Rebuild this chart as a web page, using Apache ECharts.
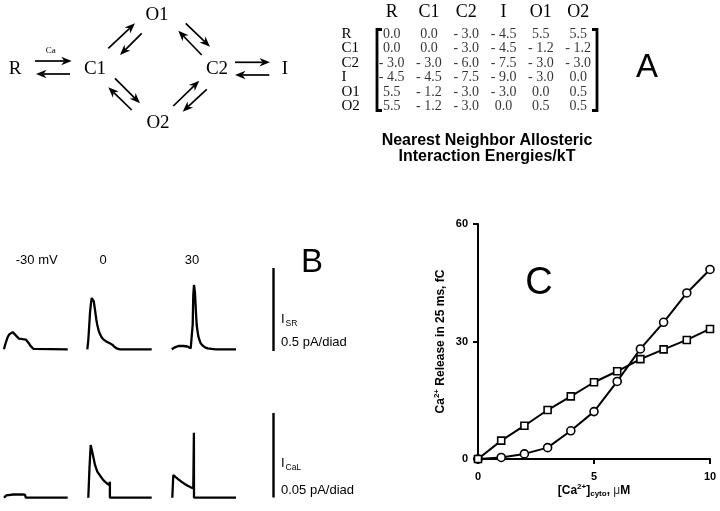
<!DOCTYPE html>
<html>
<head>
<meta charset="utf-8">
<style>
  html, body { margin: 0; padding: 0; background: #fff; }
  #chart { width: 720px; height: 511px; }
</style>
<script src="https://cdn.jsdelivr.net/npm/echarts@6/dist/echarts.min.js"></script>
</head>
<body>
<div id="chart"></div>
<script>
// Panel A: nearest neighbor allosteric interaction energies / kT
const states = ['R', 'C1', 'C2', 'I', 'O1', 'O2'];
const energies = [
    [0.0, 0.0, -3.0, -4.5, 5.5, 5.5],
    [0.0, 0.0, -3.0, -4.5, -1.2, -1.2],
    [-3.0, -3.0, -6.0, -7.5, -3.0, -3.0],
    [-4.5, -4.5, -7.5, -9.0, -3.0, 0.0],
    [5.5, -1.2, -3.0, -3.0, 0.0, 0.5],
    [5.5, -1.2, -3.0, 0.0, 0.5, 0.5]
];

// Panel B: simulated traces, [time, current in pA/diad]
const voltages = ['-30 mV', '0', '30'];
const isrTraces = [
    [[0.7,0],[1.5,0.02],[3,0.05],[4.5,0.075],[6,0.09],[7.5,0.1],[9.4,0.104],[11,0.097],[12.5,0.084],[14,0.072],[15.5,0.065],[17.5,0.062],[19.5,0.061],[21,0.06],[22.7,0.058],[24,0.05],[25.5,0.037],[27,0.022],[28.5,0.01],[30,0.003],[32,0],[64.4,0]],
    [[0,0],[1,0.056],[2,0.15],[2.7,0.22],[3.5,0.27],[4.4,0.31],[5.4,0.318],[6.5,0.29],[7.7,0.238],[9,0.18],[10,0.147],[11.3,0.115],[12.7,0.092],[14.3,0.073],[16,0.06],[17.7,0.052],[19.4,0.046],[21,0.041],[22.5,0.036],[23.7,0.035],[25,0.028],[26.3,0.018],[27.7,0.012],[30,0.004],[32.7,0],[64.4,0]],
    [[0,0],[1.5,0.006],[3.3,0.012],[5,0.018],[6.7,0.02],[9,0.021],[11.7,0.02],[13.5,0.019],[15.6,0.017],[17.5,0.011],[19,0.006],[20.3,0.009],[21,0.15],[21.6,0.33],[22.3,0.389],[23.3,0.339],[24.3,0.218],[25,0.147],[25.8,0.11],[26.6,0.08],[27.8,0.055],[29,0.036],[31,0.022],[33.3,0.012],[36,0.006],[40,0.002],[44,0],[64.3,0]]
];
const icalTraces = [
    [[0.7,0],[1.7,0.0008],[3,0.0014],[5,0.0018],[10,0.0019],[18,0.0019],[21.7,0.0018],[22.5,0],[64.4,0]],
    [[1,0],[2.2,0.018],[3.4,0.0314],[4.7,0.028],[6,0.0244],[7.7,0.0195],[10,0.0155],[12.7,0.0132],[16,0.0105],[19.4,0.0086],[22,0.0076],[22.6,0.0072],[22.6,0.0095],[22.6,0],[64.4,0]],
    [[0.6,0],[1.1,0.007],[1.6,0.0135],[4,0.0122],[7,0.0108],[10,0.0094],[13,0.0082],[16,0.0071],[19,0.0062],[21.6,0.0057],[22.2,0.0387],[22.3,0],[64.3,0]]
];

// Panel C: Ca2+ release in 25 ms (fC) vs cytosolic [Ca2+] (uM)
const caConc = [0, 1, 2, 3, 4, 5, 6, 7, 8, 9, 10];
const releaseCircles = [0, 0.4, 1.3, 2.9, 7.2, 12.1, 19.8, 28.1, 34.9, 42.4, 48.4];
const releaseSquares = [0, 4.7, 8.5, 12.5, 16.0, 19.6, 22.4, 25.5, 28.0, 30.4, 33.2];

const SANS = 'Liberation Sans, Arial, sans-serif';
const SERIF = 'Liberation Serif, Times New Roman, serif';

function fmtEnergy(v) {
    return v < 0 ? '- ' + Math.abs(v).toFixed(1) : v.toFixed(1);
}

function arrow(x1, y1, x2, y2) {
    const len = Math.hypot(x2 - x1, y2 - y1);
    const ux = (x2 - x1) / len, uy = (y2 - y1) / len;
    const hl = 10.5, hw = 4.2;
    const bx = x2 - ux * hl, by = y2 - uy * hl;
    const nx = x2 - ux * hl * 0.7, ny = y2 - uy * hl * 0.7;
    return [
        { type: 'line', shape: { x1: x1, y1: y1, x2: nx, y2: ny }, style: { stroke: '#000', lineWidth: 1.7 } },
        { type: 'polygon', shape: { points: [[x2, y2], [bx - uy * hw, by + ux * hw], [nx, ny], [bx + uy * hw, by - ux * hw]] },
          style: { fill: '#000' } }
    ];
}

function text(x, y, t, font, size, extra) {
    return {
        type: 'text', x: x, y: y,
        style: Object.assign({ text: t, fontFamily: font, fontSize: size, fill: '#000', align: 'center', verticalAlign: 'middle' }, extra || {})
    };
}

// state diagram layout
const diagramLabels = [['R', 15, 69], ['C1', 95, 69], ['O1', 157, 15], ['O2', 158, 123], ['C2', 217, 69], ['I', 285, 69]];
const diagramArrows = [
    [35, 61, 71.7, 61], [70, 74, 36, 74],
    [235, 62.3, 270, 62.3], [269.3, 75, 235, 75],
    [108.3, 48.3, 135, 23.3], [141.7, 33.3, 120, 55],
    [185.7, 23.3, 210, 46.7], [201.7, 55, 178.3, 30.7],
    [115, 78.3, 140, 103.3], [131.7, 110, 108.3, 87.3],
    [173.3, 106, 199.3, 80.7], [206.7, 89.3, 182.7, 111.7]
];

const graphic = [];
diagramLabels.forEach(function (d) { graphic.push(text(d[1], d[2], d[0], SERIF, 19)); });
graphic.push(text(50.7, 51, 'Ca', SERIF, 9));
diagramArrows.forEach(function (a) { graphic.push.apply(graphic, arrow(a[0], a[1], a[2], a[3])); });

// matrix brackets
graphic.push({ type: 'polyline', shape: { points: [[382, 29.5], [377, 29.5], [377, 110.5], [382, 110.5]] },
    style: { stroke: '#000', lineWidth: 2.8, fill: null } });
graphic.push({ type: 'polyline', shape: { points: [[592, 29.5], [597, 29.5], [597, 110.5], [592, 110.5]] },
    style: { stroke: '#000', lineWidth: 2.8, fill: null } });
graphic.push(text(487, 140.5, 'Nearest Neighbor Allosteric', SANS, 16, { fontWeight: 'bold' }));
graphic.push(text(487, 156.5, 'Interaction Energies/kT', SANS, 16, { fontWeight: 'bold' }));

// panel letters
graphic.push(text(647, 68, 'A', SANS, 33));
graphic.push(text(312, 263, 'B', SANS, 33));
graphic.push(text(539, 284, 'C', SANS, 38));

// panel B labels and scale bars
const voltageX = [36.7, 103, 192];
voltages.forEach(function (v, i) { graphic.push(text(voltageX[i], 260, v, SANS, 13)); });
graphic.push({ type: 'line', shape: { x1: 273.5, y1: 268, x2: 273.5, y2: 351 }, style: { stroke: '#000', lineWidth: 2.4 } });
graphic.push({ type: 'line', shape: { x1: 273.5, y1: 413, x2: 273.5, y2: 497.5 }, style: { stroke: '#000', lineWidth: 2.4 } });
const left = { align: 'left' };
graphic.push(text(281, 319, 'I', SANS, 13, left));
graphic.push(text(285.5, 324, 'SR', SANS, 8.5, left));
graphic.push(text(281, 342.5, '0.5 pA/diad', SANS, 13, left));
graphic.push(text(281, 463, 'I', SANS, 13, left));
graphic.push(text(285.5, 468, 'CaL', SANS, 8.5, left));
graphic.push(text(281, 490, '0.05 pA/diad', SANS, 13, left));

// grids: 0 matrix, 1-3 I_SR, 4-6 I_CaL, 7 panel C
const traceLeft = [3.3, 87.3, 171.7];
const grids = [{ left: 373, top: 26.75, width: 223.8, height: 87 }];
const xAxes = [{
    type: 'category', gridIndex: 0, data: states, position: 'top',
    axisLine: { show: false }, axisTick: { show: false }, splitLine: { show: false },
    axisLabel: { fontFamily: SERIF, fontSize: 18, color: '#000', margin: 5, interval: 0 }
}];
const yAxes = [{
    type: 'category', gridIndex: 0, data: states, inverse: true,
    axisLine: { show: false }, axisTick: { show: false }, splitLine: { show: false },
    axisLabel: { fontFamily: SERIF, fontSize: 15, color: '#000', margin: 31.5, align: 'left', interval: 0 }
}];
const series = [];

const matrixData = [];
energies.forEach(function (row, r) {
    row.forEach(function (v, c) { matrixData.push([c, r, v]); });
});
series.push({
    type: 'scatter', xAxisIndex: 0, yAxisIndex: 0, data: matrixData,
    symbolSize: 1, itemStyle: { color: 'rgba(0,0,0,0)' },
    label: {
        show: true, position: 'inside', fontFamily: SERIF, fontSize: 14, color: '#000',
        formatter: function (p) { return fmtEnergy(p.value[2]); }
    },
    silent: true
});

[isrTraces, icalTraces].forEach(function (traces, row) {
    traces.forEach(function (tr, i) {
        const gi = grids.length;
        grids.push(row === 0
            ? { left: traceLeft[i], top: 266.6, width: 70, height: 82.7 }
            : { left: traceLeft[i], top: 413.7, width: 70, height: 84 });
        xAxes.push({ type: 'value', gridIndex: gi, min: 0, max: 70, show: false });
        yAxes.push({ type: 'value', gridIndex: gi, min: 0, max: row === 0 ? 0.5 : 0.05, show: false });
        series.push({
            type: 'line', xAxisIndex: gi, yAxisIndex: gi, data: tr, showSymbol: false, clip: false,
            lineStyle: { color: '#000', width: 2.3 }, silent: true
        });
    });
});

const gc = grids.length;
grids.push({ left: 478, top: 224, width: 232, height: 235 });
const tickFont = { fontFamily: SANS, fontSize: 11, fontWeight: 'bold', color: '#000' };
xAxes.push({
    type: 'value', gridIndex: gc, min: 0, max: 10, interval: 5,
    axisLine: { show: true, lineStyle: { color: '#000', width: 2 } },
    axisTick: { show: true, length: 5, lineStyle: { color: '#000', width: 2 } },
    splitLine: { show: false },
    axisLabel: Object.assign({ margin: 12 }, tickFont),
    name: '[Ca{sup|2+}]{sub|cyto}, {mu|\u03bc}M', nameLocation: 'middle', nameGap: 22,
    nameTextStyle: {
        fontFamily: SANS, fontSize: 12, fontWeight: 'bold', color: '#000',
        rich: {
            sup: { fontFamily: SANS, fontSize: 8, fontWeight: 'bold', padding: [0, 0, 7, 0] },
            sub: { fontFamily: SANS, fontSize: 8, fontWeight: 'bold', padding: [6, 0, 0, 0] },
            mu: { fontFamily: SANS, fontSize: 12, fontWeight: 'normal', color: '#333' }
        }
    }
});
yAxes.push({
    type: 'value', gridIndex: gc, min: 0, max: 60, interval: 30,
    axisLine: { show: true, lineStyle: { color: '#000', width: 2 } },
    axisTick: { show: true, length: 5, lineStyle: { color: '#000', width: 2 } },
    splitLine: { show: false },
    axisLabel: Object.assign({ margin: 10 }, tickFont),
    name: 'Ca{sup|2+} Release in 25 ms, fC', nameLocation: 'middle', nameGap: 30,
    nameTextStyle: {
        fontFamily: SANS, fontSize: 12, fontWeight: 'bold', color: '#000',
        rich: { sup: { fontFamily: SANS, fontSize: 8, fontWeight: 'bold', padding: [0, 0, 7, 0] } }
    }
});
series.push({
    type: 'line', xAxisIndex: gc, yAxisIndex: gc, clip: false,
    data: caConc.map(function (x, i) { return [x, releaseCircles[i]]; }),
    symbol: 'circle', symbolSize: 8,
    lineStyle: { color: '#000', width: 2 },
    itemStyle: { color: '#fff', borderColor: '#000', borderWidth: 1.6 }, silent: true
});
series.push({
    type: 'line', xAxisIndex: gc, yAxisIndex: gc, clip: false,
    data: caConc.map(function (x, i) { return [x, releaseSquares[i]]; }),
    symbol: 'rect', symbolSize: 7,
    lineStyle: { color: '#000', width: 2 },
    itemStyle: { color: '#fff', borderColor: '#000', borderWidth: 1.6 }, silent: true
});

const chart = echarts.init(document.getElementById('chart'));
chart.setOption({
    animation: false,
    backgroundColor: '#fff',
    grid: grids,
    xAxis: xAxes,
    yAxis: yAxes,
    series: series,
    graphic: graphic
});
</script>
</body>
</html>
